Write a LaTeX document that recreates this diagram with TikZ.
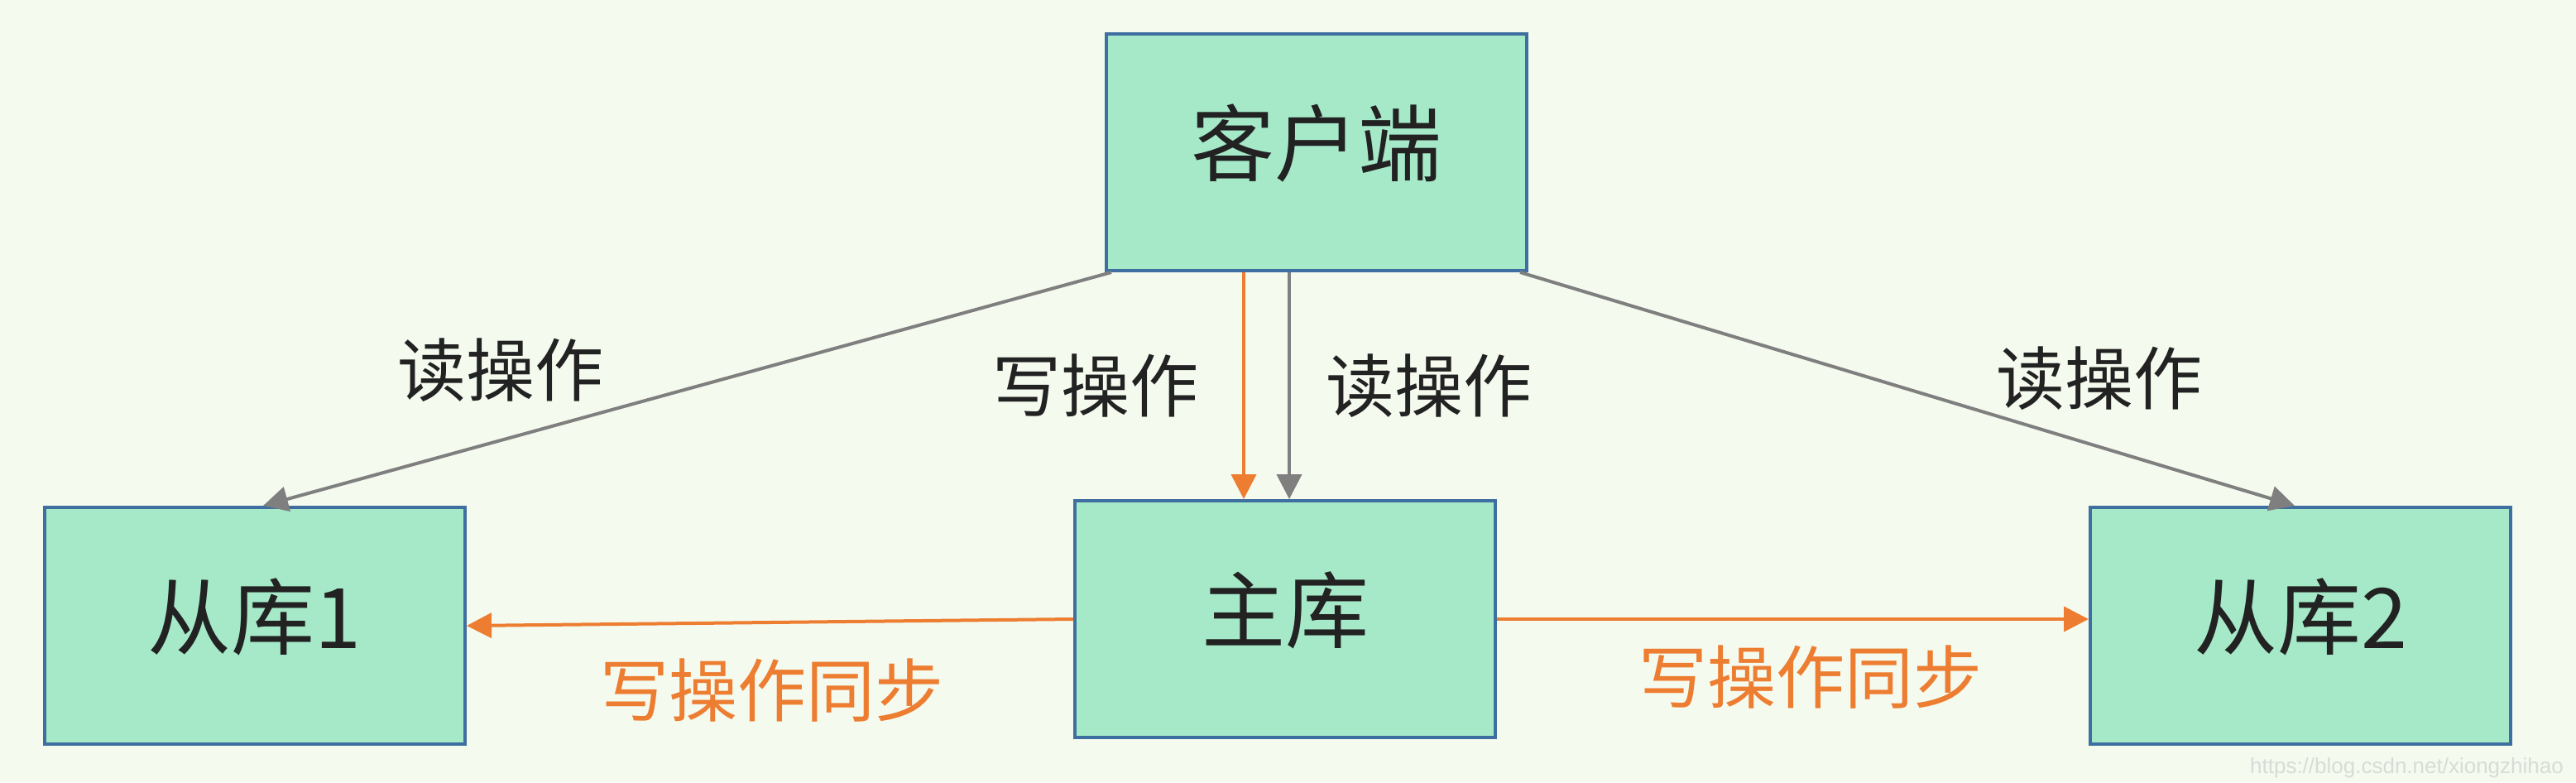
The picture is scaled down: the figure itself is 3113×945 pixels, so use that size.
\documentclass[tikz,border=0pt]{standalone}
\usepackage{fontspec}
\newfontfamily\cjk{Noto Sans CJK SC}
\usetikzlibrary{arrows.meta,calc}
\definecolor{bgc}{HTML}{F4FAEE}
\definecolor{boxfill}{HTML}{A5E9C8}
\definecolor{boxline}{HTML}{3F6FA0}
\definecolor{readc}{HTML}{7F7F7F}
\definecolor{writec}{HTML}{ED7D31}
\definecolor{txt}{HTML}{222222}
\definecolor{wm}{HTML}{D8DCD6}
\tikzset{
  dbbox/.style={draw=boxline, line width=4pt, fill=boxfill, minimum width=508pt, minimum height=286pt, inner sep=0pt, text depth=30pt, font=\cjk\fontsize{101}{104}\selectfont, text=txt},
  readarrow/.style={draw=readc, line width=4pt, -{Triangle[length=30pt,width=30pt]}},
  writearrow/.style={draw=writec, line width=4pt, -{Triangle[length=30pt,width=30pt]}},
  readlbl/.style={font=\cjk\fontsize{83}{86}\selectfont, text=txt, inner sep=0pt},
  writelbl/.style={font=\cjk\fontsize{83}{86}\selectfont, text=writec, inner sep=0pt},
}
\begin{document}
\begin{tikzpicture}[x=1pt,y=-1pt]
\useasboundingbox (0,0) rectangle (3113,945);
\fill[bgc] (0,0) rectangle (3113,945);
\node[dbbox] (c) at (1591,184) {客户端};
\node[dbbox] (s1) at (308,756) {从库1};
\node[dbbox] (m) at (1553,748) {主库};
\node[dbbox] (s2) at (2780,756) {从库2};
\coordinate (wtop) at ([xshift=-50pt]m.north);
\coordinate (rtop) at ([xshift=5pt]m.north);
\draw[readarrow] ([xshift=8pt]c.south west) -- ([xshift=10pt]s1.north);
\draw[readarrow] ([xshift=-10pt]c.south east) -- ([xshift=-7pt]s2.north);
\draw[writearrow] (c.south -| wtop) -- (wtop);
\draw[readarrow] (c.south -| rtop) -- (rtop);
\draw[writearrow] (m.west) -- (s1.east);
\draw[writearrow] (m.east) -- (m.east -| s2.west);
\node[readlbl] (l1) at (605,447) {读操作};
\node[readlbl] (l2) at (1324,466) {写操作};
\node[readlbl] (l3) at (1727,466) {读操作};
\node[readlbl] (l4) at (2537,457) {读操作};
\node[writelbl] (l5) at (933,834) {写操作同步};
\node[writelbl] (l6) at (2188,818) {写操作同步};
\node[font=\fontspec{Liberation Sans}\fontsize{26}{28}\selectfont, text=wm, anchor=east, inner sep=0pt] (w) at (3098,928) {https://blog.csdn.net/xiongzhihao};
\end{tikzpicture}
\end{document}
